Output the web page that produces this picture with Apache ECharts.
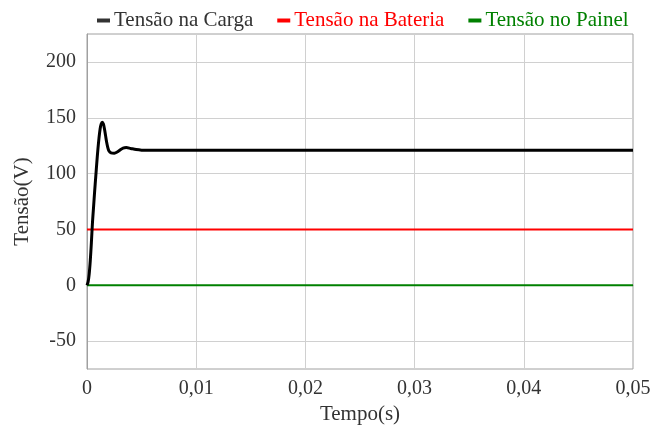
<!DOCTYPE html>
<html><head><meta charset="utf-8">
<script src="https://cdn.jsdelivr.net/npm/echarts@6/dist/echarts.min.js"></script>
<style>html,body{margin:0;padding:0;background:#fff}#c{width:660px;height:426px}</style>
</head><body><div id="c"></div>
<script>
const seriesNames = ['Tensão na Carga', 'Tensão na Bateria', 'Tensão no Painel'];
const cargaT = [0,0.0001,0.0002,0.0003,0.0004,0.0005,0.0006,0.0007,0.0008,0.0009,0.001,0.0011,0.0012,0.0013,0.0014,0.0015,0.0016,0.0017,0.0018,0.0019,0.002,0.0022,0.0025,0.0028,0.003,0.0033,0.0036,0.004,0.0045,0.005,0.006,0.01,0.02,0.03,0.04,0.05];
const cargaV = [0,3,10,22,38,56,70,84,97,110,122,132,140,144.5,146,144.5,140,134,128,123.5,120.5,118.6,118.3,119.5,121,122.8,123.3,122.5,121.5,121,120.8,120.8,120.8,120.8,120.8,120.8];
const bateriaT = [0, 0.05];
const bateriaV = [50, 50];
const painelT = [0, 0.05];
const painelV = [0, 0];
const xTicks = [0, 0.01, 0.02, 0.03, 0.04, 0.05];
const yTicks = [-50, 0, 50, 100, 150, 200];

const zip = (a, b) => a.map((t, i) => [t, b[i]]);
const font = 'Liberation Serif';
const chart = echarts.init(document.getElementById('c'));
chart.setOption({
  animation: false,
  legend: {
    top: 5, left: 92,
    itemWidth: 13, itemHeight: 4, itemGap: 24,
    icon: 'rect',
    textStyle: {fontFamily: font, fontSize: 21, padding: [0, 0, 0, -1]},
    data: [
      {name: seriesNames[0], textStyle: {color: '#333'}},
      {name: seriesNames[1], textStyle: {color: '#ff0000'}},
      {name: seriesNames[2], textStyle: {color: '#008000'}}
    ]
  },
  grid: {left: 87, right: 27, top: 34, bottom: 57, show: true, borderColor: '#a0a0a0', borderWidth: 1,
    containLabel: false, outerBoundsMode: 'none'},
  xAxis: {
    type: 'value', min: 0, max: 0.05,
    name: 'Tempo(s)', nameLocation: 'middle', nameGap: 34,
    nameTextStyle: {fontFamily: font, fontSize: 21, color: '#333'},
    axisLine: {lineStyle: {color: '#a0a0a0'}},
    axisTick: {show: false, customValues: xTicks},
    axisLabel: {fontFamily: font, fontSize: 20, color: '#333', margin: 10, customValues: xTicks,
      formatter: v => v === 0 ? '0' : v.toFixed(2).replace('.', ',')},
    splitLine: {lineStyle: {color: '#d0d0d0'}}
  },
  yAxis: {
    type: 'value', min: -75, max: 225,
    name: 'Tensão(V)', nameLocation: 'middle', nameGap: 54,
    nameTextStyle: {fontFamily: font, fontSize: 21, color: '#333'},
    axisLine: {lineStyle: {color: '#a0a0a0'}},
    axisTick: {show: false, customValues: yTicks},
    axisLabel: {fontFamily: font, fontSize: 20, color: '#333', margin: 11, customValues: yTicks},
    splitLine: {lineStyle: {color: '#d0d0d0'}}
  },
  series: [
    {name: seriesNames[0], type: 'line', data: zip(cargaT, cargaV), smooth: 0.3, showSymbol: false,
      color: '#333', lineStyle: {color: '#000', width: 3}, z: 3},
    {name: seriesNames[1], type: 'line', data: zip(bateriaT, bateriaV), showSymbol: false,
      color: '#ff0000', lineStyle: {color: '#ff0000', width: 2}, z: 2},
    {name: seriesNames[2], type: 'line', data: zip(painelT, painelV), showSymbol: false,
      color: '#008000', lineStyle: {color: '#008000', width: 2}, z: 2}
  ]
});
</script></body></html>
